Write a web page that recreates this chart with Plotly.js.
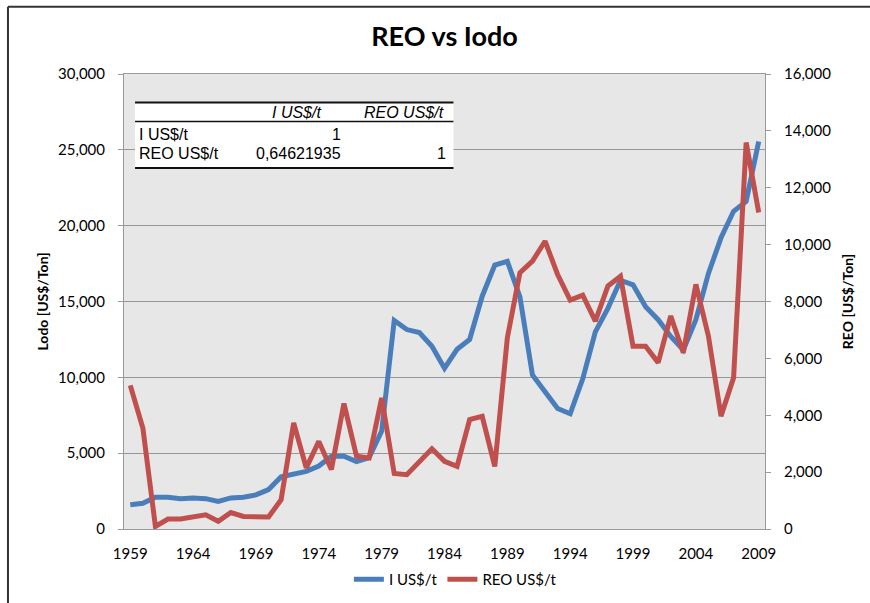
<!DOCTYPE html>
<html>
<head>
<meta charset="utf-8">
<script src="https://cdn.plot.ly/plotly-3.0.1.min.js"></script>
<style>
  html, body { margin: 0; padding: 0; background: #fff; }
  #graph { width: 870px; height: 603px; }
</style>
</head>
<body>
<div id="graph"></div>
<script>
/* years on the category axis */
var years = [1959, 1960, 1961, 1962, 1963, 1964, 1965, 1966, 1967, 1968,
    1969, 1970, 1971, 1972, 1973, 1974, 1975, 1976, 1977, 1978,
    1979, 1980, 1981, 1982, 1983, 1984, 1985, 1986, 1987, 1988,
    1989, 1990, 1991, 1992, 1993, 1994, 1995, 1996, 1997, 1998,
    1999, 2000, 2001, 2002, 2003, 2004, 2005, 2006, 2007, 2008, 2009];
/* iodine price, left axis */
var iodoPrice = [1600, 1700, 2100, 2100, 2000, 2050, 2000, 1820, 2050, 2100,
    2250, 2600, 3450, 3600, 3800, 4150, 4800, 4800, 4450, 4700,
    6450, 13750, 13150, 12950, 12050, 10600, 11850, 12500, 15350, 17400,
    17650, 15300, 10150, 9050, 7950, 7600, 9900, 13000, 14550, 16400,
    16100, 14650, 13800, 12700, 11800, 13800, 16850, 19200, 20950, 21600, 25550];
/* rare earth oxide price, right axis */
var reoPrice = [5050, 3550, 90, 350, 350, 420, 500, 270, 580, 440,
    440, 420, 1030, 3730, 2150, 3080, 2090, 4410, 2560, 2500,
    4610, 1950, 1910, 2380, 2820, 2380, 2200, 3850, 3960, 2200,
    6720, 9010, 9420, 10120, 8950, 8050, 8220, 7310, 8540, 8890,
    6430, 6430, 5850, 7490, 6200, 8600, 6780, 3970, 5320, 13590, 11130];
/* correlation table in the corner */
var tableHeader = ["", "I US$/t", "REO US$/t"];
var tableRow1 = ["I US$/t", "1", ""];
var tableRow2 = ["REO US$/t", "0,64621935", "1"];
var seriesNames = ["I US$/t", "REO US$/t"];

var tickFont = {family: 'Lato', size: 15, color: '#000'};
var tableFont = {family: 'Liberation Sans', size: 16, color: '#000'};

function drawGraph() {
    var iodo = {
        x: years,
        y: iodoPrice,
        type: 'scatter',
        mode: 'lines',
        name: seriesNames[0],
        line: {color: '#4a7ebb', width: 5}
    };
    var reo = {
        x: years,
        y: reoPrice,
        yaxis: 'y2',
        type: 'scatter',
        mode: 'lines',
        name: seriesNames[1],
        line: {color: '#c0504d', width: 5}
    };

    /* table text as annotations, column anchors in paper units */
    var colX = [0.0203, 0.342, 0.506];
    var colAlign = ['left', 'right', 'right'];
    var ann = [];
    var i;
    for (i = 0; i < 3; i += 1) {
        if (tableHeader[i] !== "") {
            ann.push({xref: 'paper', yref: 'paper', x: (i === 1 ? 0.311 : 0.5016), y: 0.9156,
                xanchor: 'right', yanchor: 'middle', showarrow: false, text: '<i>' + tableHeader[i] + '</i>',
                font: tableFont});
        }
        if (tableRow1[i] !== "") {
            ann.push({xref: 'paper', yref: 'paper', x: colX[i], y: 0.8675,
                xanchor: colAlign[i], yanchor: 'middle', showarrow: false, text: tableRow1[i],
                font: tableFont});
        }
        if (tableRow2[i] !== "") {
            ann.push({xref: 'paper', yref: 'paper', x: colX[i], y: 0.826,
                xanchor: colAlign[i], yanchor: 'middle', showarrow: false, text: tableRow2[i],
                font: tableFont});
        }
    }

    var shapes = [
        /* chart frame, left and top edges */
        {type: 'line', xref: 'paper', yref: 'paper', x0: -0.181, x1: -0.181, y0: 1.148, y1: -0.2,
            line: {color: '#333', width: 2}},
        {type: 'line', xref: 'paper', yref: 'paper', x0: -0.181, x1: 1.2, y0: 1.148, y1: 1.148,
            line: {color: '#333', width: 2}},
        /* table box */
        {type: 'rect', xref: 'paper', yref: 'paper', x0: 0.0172, x1: 0.514, y0: 0.7934, y1: 0.9376,
            fillcolor: '#fff', line: {width: 0}, layer: 'above'},
        {type: 'line', xref: 'paper', yref: 'paper', x0: 0.0172, x1: 0.514, y0: 0.9376, y1: 0.9376,
            line: {color: '#111', width: 2}},
        {type: 'line', xref: 'paper', yref: 'paper', x0: 0.0172, x1: 0.514, y0: 0.8958, y1: 0.8958,
            line: {color: '#111', width: 1.5}},
        {type: 'line', xref: 'paper', yref: 'paper', x0: 0.0172, x1: 0.514, y0: 0.7934, y1: 0.7934,
            line: {color: '#111', width: 2}}
    ];

    var layout = {
        width: 870,
        height: 603,
        margin: {l: 124, r: 105, t: 74, b: 74, pad: 0, autoexpand: false},
        paper_bgcolor: '#fff',
        plot_bgcolor: '#e7e7e7',
        title: {
            text: '<b>REO vs Iodo</b>',
            font: {family: 'Lato', size: 27, color: '#000'},
            x: 0.5, xref: 'paper', xanchor: 'center',
            y: 38, yref: 'container', yanchor: 'middle'
        },
        showlegend: true,
        legend: {
            orientation: 'h',
            x: 0.517, xanchor: 'center',
            y: -0.111, yanchor: 'middle',
            font: {family: 'Lato', size: 15, color: '#000'},
            itemwidth: 30,
            traceorder: 'normal'
        },
        xaxis: {
            range: [1958.5, 2009.5],
            tick0: 1959,
            dtick: 5,
            showgrid: false,
            zeroline: false,
            showline: true,
            linecolor: '#9a9a9a',
            linewidth: 1,
            mirror: true,
            ticks: '',
            ticklabelstandoff: 11,
            tickfont: tickFont
        },
        yaxis: {
            range: [0, 30000],
            dtick: 5000,
            tickformat: ',d',
            showgrid: true,
            gridcolor: '#969696',
            gridwidth: 1,
            zeroline: false,
            showline: true,
            linecolor: '#9a9a9a',
            ticks: 'outside',
            ticklen: 5,
            tickcolor: '#9a9a9a',
            ticklabelstandoff: 10,
            tickfont: tickFont,
            title: {text: '<b>Lodo [US$/Ton]</b>', standoff: 6,
                font: {family: 'Lato', size: 14, color: '#000'}}
        },
        yaxis2: {
            overlaying: 'y',
            side: 'right',
            range: [0, 16000],
            dtick: 2000,
            tickformat: ',d',
            showgrid: false,
            zeroline: false,
            showline: true,
            linecolor: '#9a9a9a',
            ticks: 'outside',
            ticklen: 5,
            tickcolor: '#9a9a9a',
            ticklabelstandoff: 10,
            tickfont: tickFont,
            title: {text: '<b>REO [US$/Ton]</b>', standoff: 12,
                font: {family: 'Lato', size: 14, color: '#000'}}
        },
        shapes: shapes,
        annotations: ann
    };

    Plotly.newPlot("graph", [iodo, reo], layout, {displayModeBar: false, staticPlot: true});
}
drawGraph();
</script>
</body>
</html>
